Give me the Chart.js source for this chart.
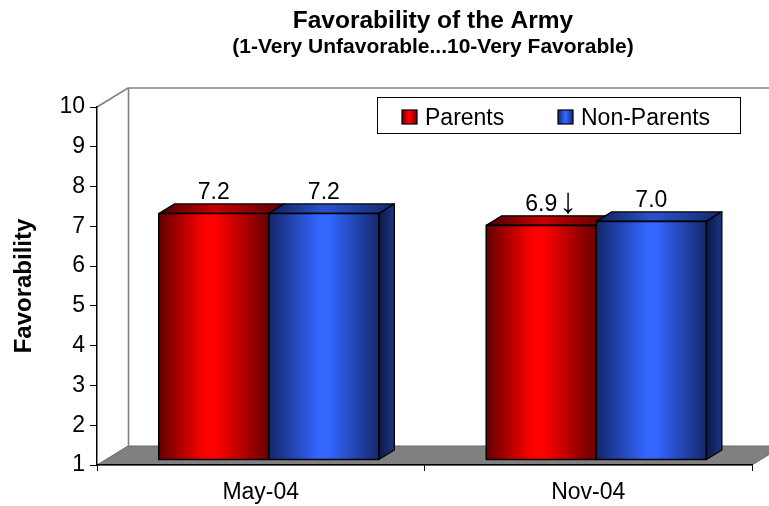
<!DOCTYPE html>
<html><head><meta charset="utf-8">
<script src="https://cdn.jsdelivr.net/npm/chart.js@4/dist/chart.umd.min.js"></script>
<style>html,body{margin:0;padding:0;background:#fff}#wrap{width:769px;height:506px}</style>
</head><body><div id="wrap"><canvas id="c" width="769" height="506"></canvas></div>
<script>
// ---- data ----
const categories = ['May-04', 'Nov-04'];
const seriesNames = ['Parents', 'Non-Parents'];
const parentsValues = [7.2, 6.9];
const nonParentsValues = [7.2, 7.0];
const parentsNotes = ['', '\u2193'];
const nonParentsNotes = ['', ''];
const yMin = 1, yMax = 10, yStep = 1;
const titleText = 'Favorability of the Army';
const subtitleText = '(1-Very Unfavorable...10-Very Favorable)';
const yTitleText = 'Favorability';

// ---- styling ----
const FONT = "'Liberation Sans', Arial, sans-serif";
const WALL = {dx: 31, dy: -19};
const BAR_SHIFT = 0.26;
const BAR_DEPTH = 0.5;
const palettes = [
  {front: [[0,'#640000'],[0.42,'#ff0000'],[0.52,'#ff0000'],[1,'#6a0000']],
   top: [[0,'#4a0000'],[0.45,'#c40000'],[1,'#5a0000']],
   side: [[0,'#3c0000'],[1,'#7a0000']]},
  {front: [[0,'#13266a'],[0.45,'#3366ff'],[0.55,'#3366ff'],[1,'#14286c']],
   top: [[0,'#0f215c'],[0.45,'#2b52cc'],[1,'#12296a']],
   side: [[0,'#0b1848'],[1,'#1c3584']]}
];
const notes = [parentsNotes, nonParentsNotes];

function grad(ctx, x0, x1, stops) {
  const g = ctx.createLinearGradient(x0, 0, x1, 0);
  stops.forEach(s => g.addColorStop(s[0], s[1]));
  return g;
}

const threeD = {
  id: 'threeD',
  beforeDraw(chart) {
    const {ctx, chartArea: a} = chart;
    ctx.save();
    ctx.fillStyle = '#fff';
    ctx.fillRect(0, 0, chart.width, chart.height);
    // floor
    ctx.beginPath();
    ctx.moveTo(a.left, a.bottom);
    ctx.lineTo(a.right, a.bottom);
    ctx.lineTo(a.right + WALL.dx, a.bottom + WALL.dy);
    ctx.lineTo(a.left + WALL.dx, a.bottom + WALL.dy);
    ctx.closePath();
    ctx.fillStyle = '#808080';
    ctx.fill();
    ctx.strokeStyle = '#6a6a6a';
    ctx.lineWidth = 1;
    ctx.stroke();
    // wall outlines
    ctx.beginPath();
    ctx.moveTo(a.left, a.top);
    ctx.lineTo(a.left + WALL.dx, a.top + WALL.dy);
    ctx.lineTo(a.right + WALL.dx, a.top + WALL.dy);
    ctx.moveTo(a.left + WALL.dx + 0.5, a.top + WALL.dy);
    ctx.lineTo(a.left + WALL.dx + 0.5, a.bottom + WALL.dy);
    ctx.strokeStyle = '#808080';
    ctx.lineWidth = 1.6;
    ctx.stroke();
    ctx.restore();
  },
  beforeDatasetDraw() { return false; },
  afterDatasetsDraw(chart) {
    const {ctx} = chart;
    const sx = WALL.dx * BAR_SHIFT, sy = WALL.dy * BAR_SHIFT;
    const bx = WALL.dx * BAR_DEPTH, by = WALL.dy * BAR_DEPTH;
    const metas = chart.data.datasets.map((d, i) => chart.getDatasetMeta(i));
    ctx.save();
    ctx.translate(sx, sy);
    ctx.lineJoin = 'round';
    ctx.strokeStyle = '#000';
    ctx.lineWidth = 1.3;
    for (let i = 0; i < categories.length; i++) {
      metas.forEach((meta, di) => {
        const el = meta.data[i];
        const {x, y, base, width} = el.getProps(['x', 'y', 'base', 'width'], true);
        const l = x - width / 2, r = x + width / 2;
        const p = palettes[di];
        // top face
        ctx.beginPath();
        ctx.moveTo(l, y); ctx.lineTo(r, y); ctx.lineTo(r + bx, y + by); ctx.lineTo(l + bx, y + by); ctx.closePath();
        ctx.fillStyle = grad(ctx, l, r + bx, p.top);
        ctx.fill(); ctx.stroke();
        // side face
        ctx.beginPath();
        ctx.moveTo(r, y); ctx.lineTo(r + bx, y + by); ctx.lineTo(r + bx, base + by); ctx.lineTo(r, base); ctx.closePath();
        ctx.fillStyle = grad(ctx, r, r + bx, p.side);
        ctx.fill(); ctx.stroke();
        // front face
        ctx.fillStyle = grad(ctx, l, r, p.front);
        ctx.fillRect(l, y, width, base - y);
        ctx.lineWidth = 1.6;
        ctx.strokeRect(l, y, width, base - y);
        ctx.lineWidth = 1.3;
      });
    }
    // value labels
    ctx.fillStyle = '#000';
    ctx.textBaseline = 'alphabetic';
    metas.forEach((meta, di) => {
      meta.data.forEach((el, i) => {
        const {x, y} = el.getProps(['x', 'y'], true);
        const v = chart.data.datasets[di].data[i];
        const txt = v.toFixed(1);
        const ty = y + by - 5;
        ctx.font = '23px ' + FONT;
        ctx.textAlign = 'center';
        ctx.fillText(txt, x, ty);
        const n = notes[di][i];
        if (n) {
          const w = ctx.measureText(txt).width;
          ctx.font = '36px ' + FONT;
          ctx.textAlign = 'left';
          ctx.fillText(n, x + w / 2 + 2, ty + 2);
        }
      });
    });
    ctx.restore();
  },
  afterDraw(chart) {
    const {ctx, chartArea: a} = chart;
    ctx.save();
    // titles
    ctx.fillStyle = '#000';
    ctx.textAlign = 'center';
    ctx.textBaseline = 'alphabetic';
    const cx = 433;
    ctx.font = 'bold 24.5px ' + FONT;
    ctx.fillText(titleText, cx, 28);
    ctx.font = 'bold 21px ' + FONT;
    ctx.fillText(subtitleText, cx, 53);
    // legend
    const lx = 377.5, ly = 97.5, lw = 363, lh = 36;
    ctx.fillStyle = '#fff';
    ctx.fillRect(lx, ly, lw, lh);
    ctx.strokeStyle = '#000';
    ctx.lineWidth = 1;
    ctx.strokeRect(lx, ly, lw, lh);
    const itemX = [402, 558];
    ctx.font = '23px ' + FONT;
    ctx.textAlign = 'left';
    chart.data.datasets.forEach((ds, di) => {
      const sx = itemX[di];
      ctx.fillStyle = grad(ctx, sx, sx + 15, palettes[di].front);
      ctx.fillRect(sx, 110, 15, 14);
      ctx.strokeStyle = '#000';
      ctx.lineWidth = 1.2;
      ctx.strokeRect(sx, 110, 15, 14);
      ctx.fillStyle = '#000';
      ctx.fillText(ds.label, sx + 23, 125);
    });
    ctx.restore();
  }
};

new Chart(document.getElementById('c'), {
  type: 'bar',
  data: {
    labels: categories,
    datasets: [
      {label: seriesNames[0], data: parentsValues, base: yMin, backgroundColor: '#ff0000'},
      {label: seriesNames[1], data: nonParentsValues, base: yMin, backgroundColor: '#3366ff'}
    ]
  },
  options: {
    responsive: false,
    animation: false,
    events: [],
    layout: {padding: {left: 0, right: 17, top: 107, bottom: 0}},
    datasets: {bar: {categoryPercentage: 0.672, barPercentage: 1.0}},
    plugins: {legend: {display: false}, tooltip: {enabled: false}, title: {display: false}},
    scales: {
      x: {
        offset: true,
        grid: {offset: true, drawOnChartArea: false, drawTicks: true, tickLength: 6, color: '#000', lineWidth: 1},
        border: {display: true, color: '#000', width: 1.5},
        ticks: {color: '#000', font: {family: FONT, size: 23}, padding: 8, maxRotation: 0},
        afterFit: s => { s.height = 41; }
      },
      y: {
        min: yMin, max: yMax,
        grid: {drawOnChartArea: false, drawTicks: true, tickLength: 7, color: '#000', lineWidth: 1},
        border: {display: true, color: '#000', width: 1.5},
        ticks: {stepSize: yStep, color: '#000', font: {family: FONT, size: 23}, padding: 5},
        title: {display: true, text: yTitleText, color: '#000', font: {family: FONT, size: 24, weight: 'bold'}, padding: {top: 10, bottom: 0}},
        afterFit: s => { s.width = 97; }
      }
    }
  },
  plugins: [threeD]
});
</script>
</body></html>
